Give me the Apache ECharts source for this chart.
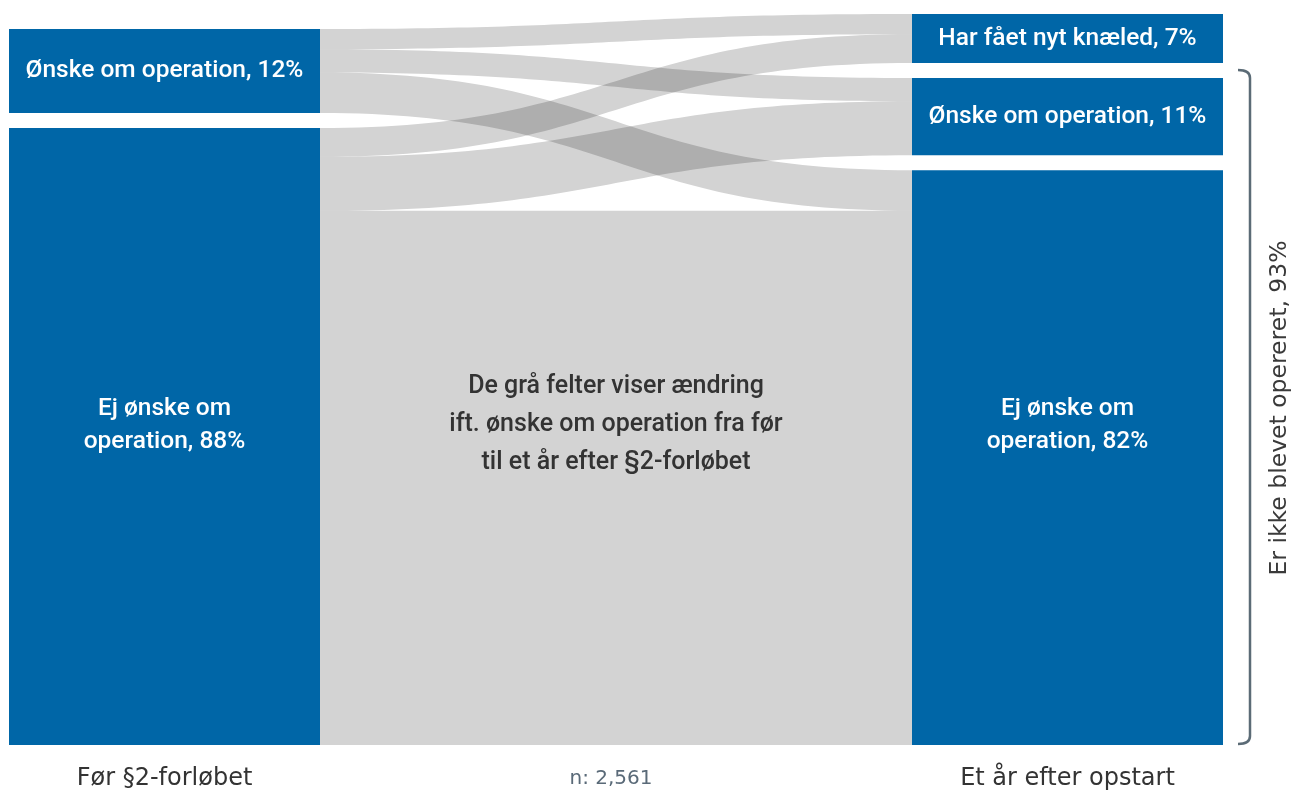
<!DOCTYPE html>
<html lang="da">
<head>
<meta charset="utf-8">
<title>Ønske om operation før og efter §2-forløbet</title>
<script src="https://cdn.jsdelivr.net/npm/echarts@6/dist/echarts.min.js"></script>
<style>
  html, body { margin: 0; padding: 0; background: #ffffff; }
  #chart { width: 1293px; height: 792px; }
</style>
</head>
<body>
<div id="chart"></div>
<script>
// Stages (columns) of the flow
const stageLabels = ['Før §2-forløbet', 'Et år efter opstart'];

// Nodes before the course (shares in %)
const beforeNodes = ['før_ønske', 'før_ej'];
const beforeLabels = ['Ønske om operation, 12%', 'Ej ønske om\noperation, 88%'];
const beforeValues = [12, 88];

// Nodes one year after (shares in %)
const afterNodes = ['efter_knæ', 'efter_ønske', 'efter_ej'];
const afterLabels = ['Har fået nyt knæled, 7%', 'Ønske om operation, 11%', 'Ej ønske om\noperation, 82%'];
const afterValues = [7, 11, 82];

// Flows between the two stages (share of all patients, %)
const flowSources = ['før_ønske', 'før_ønske', 'før_ønske', 'før_ej', 'før_ej', 'før_ej'];
const flowTargets = ['efter_knæ', 'efter_ønske', 'efter_ej', 'efter_knæ', 'efter_ønske', 'efter_ej'];
const flowValues  = [2.9, 3.3, 5.8, 4.1, 7.7, 76.2];

const sampleText = 'n: 2,561';
const middleText = 'De grå felter viser ændring\nift. ønske om operation fra før\ntil et år efter §2-forløbet';
const bracketText = 'Er ikke blevet opereret, 93%';

// Layout constants
const W = 1293, H = 792;
const padTop = 14, padBottom = 47, padLeft = 9, padRight = 70;
const nodeWidth = 311, nodeGap = 15;
const blue = '#0066a7';
const textY = 425;            // common vertical centre of the large labels
const boldFont = 'Roboto, "Noto Sans", sans-serif';
const plainFont = '"DejaVu Sans", sans-serif';

const areaH = H - padTop - padBottom;
const columns = [
  { names: beforeNodes, labels: beforeLabels, values: beforeValues },
  { names: afterNodes, labels: afterLabels, values: afterValues }
];
const maxN = Math.max(...columns.map(c => c.names.length));
const maxSum = Math.max(...columns.map(c => c.values.reduce((a, b) => a + b, 0)));
const ky = (areaH - (maxN - 1) * nodeGap) / maxSum;

// Columns are stacked so that they share a common bottom edge;
// two-line labels sit on the same line as the centre text.
const labelOf = {};
const nodes = [];
columns.forEach(col => {
  const total = col.values.reduce((a, b) => a + b, 0) * ky + (col.names.length - 1) * nodeGap;
  let y = areaH - total;
  col.names.forEach((name, i) => {
    labelOf[name] = col.labels[i];
    const h = col.values[i] * ky;
    const item = { name: name, value: col.values[i], localY: y / areaH };
    if (col.labels[i].indexOf('\n') >= 0) {
      const centre = padTop + y + h / 2;
      item.label = { offset: [0, textY - centre] };
    }
    nodes.push(item);
    y += h + nodeGap;
  });
});

const links = flowValues.map((v, i) => ({ source: flowSources[i], target: flowTargets[i], value: v }));

const chart = echarts.init(document.getElementById('chart'), null, { renderer: 'canvas' });

const leftCenter = padLeft + nodeWidth / 2;
const rightCenter = W - padRight - nodeWidth / 2;
const midCenter = (padLeft + nodeWidth + W - padRight - nodeWidth) / 2;
const bx = 1250, bTop = 70, bBot = 744, r = 8;

chart.setOption({
  animation: false,
  backgroundColor: '#ffffff',
  series: [{
    type: 'sankey',
    left: padLeft, right: padRight, top: padTop, bottom: padBottom,
    nodeWidth: nodeWidth,
    nodeGap: nodeGap,
    layoutIterations: 0,
    draggable: false,
    emphasis: { disabled: true },
    itemStyle: { color: blue, borderWidth: 0 },
    lineStyle: { color: '#070505', opacity: 0.175, curveness: 0.5 },
    label: {
      position: 'inside',
      color: '#ffffff',
      fontFamily: boldFont,
      fontWeight: 500,
      fontSize: 24.5,
      lineHeight: 33,
      align: 'center',
      formatter: p => labelOf[p.name]
    },
    data: nodes,
    links: links
  }],
  graphic: [
    {
      type: 'text', x: midCenter, y: textY,
      style: {
        text: middleText, fill: '#3d3d3d',
        font: '500 25px ' + boldFont,
        lineHeight: 38, textAlign: 'center', textVerticalAlign: 'middle'
      }
    },
    {
      type: 'text', x: leftCenter, y: 779,
      style: { text: stageLabels[0], fill: '#333333', font: '24px ' + plainFont, textAlign: 'center', textVerticalAlign: 'middle' }
    },
    {
      type: 'text', x: rightCenter, y: 779,
      style: { text: stageLabels[1], fill: '#333333', font: '24px ' + plainFont, textAlign: 'center', textVerticalAlign: 'middle' }
    },
    {
      type: 'text', x: 611, y: 779,
      style: { text: sampleText, fill: '#5a6a78', font: '20px ' + plainFont, textAlign: 'center', textVerticalAlign: 'middle' }
    },
    {
      type: 'text', x: 1280, y: 408, rotation: Math.PI / 2,
      style: { text: bracketText, fill: '#3a3a3a', font: '23.5px ' + plainFont, textAlign: 'center', textVerticalAlign: 'middle' }
    },
    // Curly bracket grouping the patients who have not been operated
    {
      type: 'line',
      shape: { x1: bx, y1: bTop + r, x2: bx, y2: bBot - r },
      style: { stroke: '#5b6b76', lineWidth: 2.5 }
    },
    {
      type: 'bezierCurve',
      shape: { x1: bx - 12, y1: bTop, x2: bx, y2: bTop + r, cpx1: bx, cpy1: bTop },
      style: { stroke: '#5b6b76', lineWidth: 2.5, fill: null }
    },
    {
      type: 'bezierCurve',
      shape: { x1: bx, y1: bBot - r, x2: bx - 12, y2: bBot, cpx1: bx, cpy1: bBot },
      style: { stroke: '#5b6b76', lineWidth: 2.5, fill: null }
    }
  ]
});
</script>
</body>
</html>
